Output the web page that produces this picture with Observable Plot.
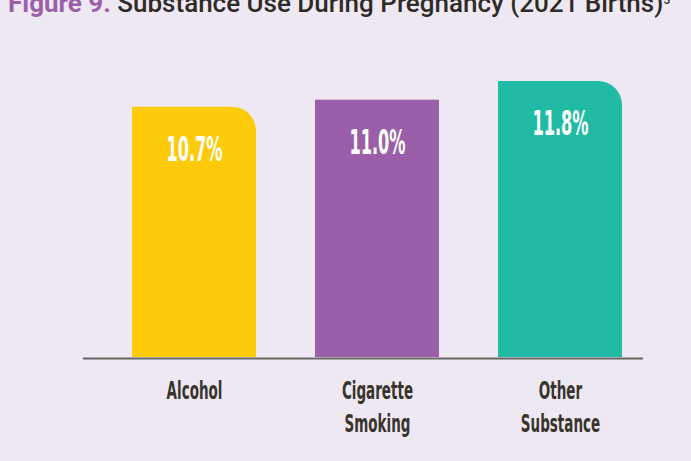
<!DOCTYPE html>
<html>
<head>
<meta charset="utf-8">
<script src="https://cdn.jsdelivr.net/npm/d3@7"></script>
<script src="https://cdn.jsdelivr.net/npm/@observablehq/plot@0.6"></script>
<style>
  html, body { margin: 0; padding: 0; background: #EEE8F3; overflow: hidden; }
  #wrap { position: relative; width: 691px; height: 461px; }
  #title { position: absolute; left: 8px; top: -12px; white-space: nowrap; line-height: 30px;
    font-family: Roboto, "Open Sans", sans-serif; font-weight: 500; font-size: 26px; color: #2E2A26; }
  #title .fig { color: #9B5FAA; font-weight: 700; }
  #title sup { font-size: 12px; vertical-align: 8px; line-height: 0; }
  #chart { position: absolute; left: 0; top: 0; }
</style>
</head>
<body>
<div id="wrap">
  <div id="chart"></div>
  <div id="title"><span class="fig">Figure 9.</span> Substance Use During Pregnancy (2021 Births)<sup>5</sup></div>
</div>
<script>
const categories = ["Alcohol", "Cigarette\nSmoking", "Other\nSubstance"];
const values = [10.7, 11.0, 11.8];
const colors = ["#FDCB0A", "#9A5FA8", "#21BBA5"];
const rounded = [true, false, true];

const data = categories.map((c, i) => ({category: c, value: values[i], color: colors[i], rounded: rounded[i]}));

const condensed = '"Liberation Sans Narrow", "DejaVu Sans Condensed", "Roboto", sans-serif';
const hasCorners = (() => { try { const v = (Plot.version || "0.6.0").split(".").map(Number); return v[0] > 0 || v[1] > 6 || v[2] >= 15; } catch (e) { return false; } })();

const barOpts = {x: "category", y: "value", fill: "color"};
const marks = [];
if (hasCorners) {
  marks.push(Plot.barY(data.filter(d => d.rounded), {...barOpts, rx2y1: 24}));
  marks.push(Plot.barY(data.filter(d => !d.rounded), barOpts));
} else {
  marks.push(Plot.barY(data, barOpts));
}
marks.push(
  Plot.ruleY([0], {stroke: "#666666", strokeWidth: 2, dy: 1}),
  Plot.text(data, {x: "category", y: "value", text: d => d.value.toFixed(1) + "%", dy: 43,
    fill: "white", fontSize: 34, fontWeight: "bold", fontFamily: condensed, className: "vlabel"}),
  Plot.axisX({tickSize: 0, tickPadding: 18, fontSize: 25, lineHeight: 1.32, fontWeight: "bold",
    fontFamily: condensed, color: "#38342C", className: "xlabel"})
);

const chart = Plot.plot({
  width: 691,
  height: 461,
  marginTop: 81,
  marginBottom: 104,
  marginLeft: 83,
  marginRight: 48,
  style: {background: "transparent", overflow: "visible"},
  x: {domain: categories, range: [94.3, 658.7], paddingInner: 0.324, paddingOuter: 0.2, label: null},
  y: {domain: [0, 11.8], axis: null},
  color: {type: "identity"},
  marks
});
document.getElementById("chart").appendChild(chart);

// condense text horizontally
function squeeze(sel, s) {
  d3.select(chart).selectAll(sel).each(function() {
    const t = this.getAttribute("transform") || "";
    this.setAttribute("transform", t + ` scale(${s},1)`);
  });
}
squeeze(".vlabel text", 0.53);
squeeze(".xlabel text", 0.6);
</script>
</body>
</html>
